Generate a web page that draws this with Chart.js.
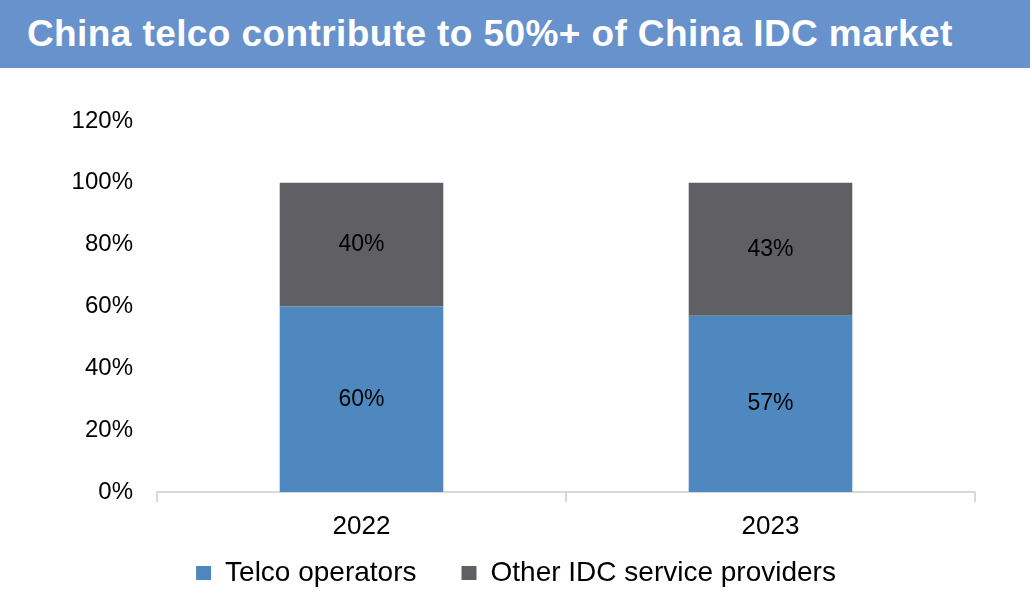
<!DOCTYPE html>
<html>
<head>
<meta charset="utf-8">
<script src="https://cdn.jsdelivr.net/npm/chart.js@4"></script>
<style>
  html, body { margin: 0; padding: 0; background: #fff; overflow: hidden; }
  #title {
    height: 68px; width: 1030px; background: #6792cc; color: #fff;
    font-family: "Liberation Sans", Arial, sans-serif; font-weight: bold;
    font-size: 37px; line-height: 68px; padding-left: 27px; box-sizing: border-box;
    letter-spacing: 0.4px; white-space: nowrap;
  }
  #wrap { position: relative; width: 1032px; height: 540px; }
</style>
</head>
<body>
<div id="title">China telco contribute to 50%+ of China IDC market</div>
<div id="wrap"><canvas id="myChart"></canvas></div>
<script>
var years = ['2022', '2023'];
var telcoShare = [0.60, 0.57];
var otherShare = [0.40, 0.43];
var yTicks = [0, 0.2, 0.4, 0.6, 0.8, 1.0, 1.2];

var valueLabels = {
    id: 'valueLabels',
    afterDatasetsDraw: function (chart) {
        var ctx = chart.ctx;
        ctx.save();
        ctx.font = '23px "Liberation Sans", Arial, sans-serif';
        ctx.fillStyle = '#000';
        ctx.textAlign = 'center';
        ctx.textBaseline = 'middle';
        chart.data.datasets.forEach(function (ds, i) {
            chart.getDatasetMeta(i).data.forEach(function (bar, j) {
                var v = ds.data[j];
                ctx.fillText(Math.round(v * 100) + '%', bar.x, (bar.y + bar.base) / 2);
            });
        });
        ctx.restore();
    }
};

// the x axis box is kept short so the legend sits close; give its labels room again
var xLabelRoom = {
    id: 'xLabelRoom',
    afterLayout: function (chart) {
        chart.scales.x.bottom = chart.scales.x.top + 60;
    }
};

const data = {
    labels: years,
    datasets: [{
        label: 'Telco operators',
        backgroundColor: '#4f88bf',
        data: telcoShare,
        barPercentage: 0.4,
        categoryPercentage: 1
    }, {
        label: 'Other IDC service providers',
        backgroundColor: '#606064',
        data: otherShare,
        barPercentage: 0.4,
        categoryPercentage: 1
    }]
};

const config = {
    type: 'bar',
    data: data,
    plugins: [valueLabels, xLabelRoom],
    options: {
        responsive: false,
        animation: false,
        layout: { padding: { top: 53, right: 0, left: 0, bottom: 11 } },
        plugins: {
            tooltip: { enabled: false },
            legend: {
                position: 'bottom',
                labels: {
                    font: { size: 28, family: '"Liberation Sans", Arial, sans-serif' },
                    color: '#000',
                    boxWidth: 15,
                    boxHeight: 14,
                    padding: 45
                }
            }
        },
        scales: {
            x: {
                stacked: true,
                afterFit: function (scale) { scale.height = 22; },
                grid: { drawOnChartArea: false, color: '#d9d9d9', lineWidth: 2, tickLength: 10 },
                border: { color: '#d9d9d9', width: 2 },
                ticks: {
                    color: '#000',
                    padding: 9,
                    font: { size: 26, family: '"Liberation Sans", Arial, sans-serif' }
                }
            },
            y: {
                stacked: true,
                min: 0,
                max: 1.2,
                afterFit: function (scale) { scale.width = 157; },
                afterBuildTicks: function (scale) {
                    scale.ticks = yTicks.map(function (v) { return { value: v }; });
                },
                grid: { display: false },
                border: { display: false },
                ticks: {
                    color: '#000',
                    padding: 16,
                    font: { size: 24, family: '"Liberation Sans", Arial, sans-serif' },
                    callback: function (v) { return Math.round(v * 100) + '%'; }
                }
            },
            yRight: {
                position: 'right',
                afterFit: function (scale) { scale.width = 57; },
                grid: { display: false },
                border: { display: false },
                ticks: { display: false }
            }
        }
    }
};

const canvas = document.getElementById('myChart');
canvas.width = 1032;
canvas.height = 540;
const myChart = new Chart(canvas, config);
</script>
</body>
</html>
